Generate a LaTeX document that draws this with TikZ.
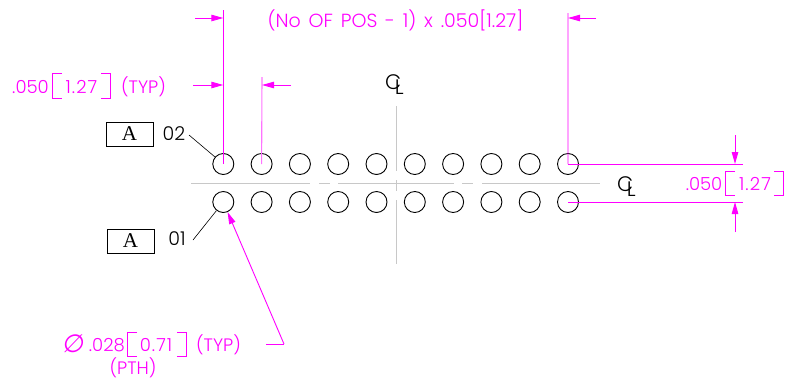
\documentclass[tikz,border=0pt]{standalone}
\usepackage{fontspec}
\setmainfont{Poppins Light}
\newfontfamily\symfont{DejaVu Sans}
\newfontfamily\serifA{Liberation Serif}
\newfontfamily\widefont[WordSpace=1.5]{Poppins Light}
\newfontfamily\spacedfont[LetterSpace=6]{Poppins Light}
\usetikzlibrary{arrows.meta}
\definecolor{dimc}{RGB}{255,0,255}
\definecolor{cline}{RGB}{200,200,200}
\newcommand{\clsym}{C\kern-6.5pt\raisebox{-5pt}{L}}
\tikzset{
  x=1pt,y=-1pt,
  pad/.style={circle,draw=black,line width=0.9pt,minimum size=21pt,inner sep=0pt,fill=none},
  dim/.style={draw=dimc,line width=0.9pt},
  dimarrow/.style={dim,-{Triangle[length=12pt,width=6.5pt,fill=dimc]}},
  dimtext/.style={text=dimc,font=\fontsize{18}{20}\selectfont,inner sep=0pt},
  midtext/.style={text=dimc,font=\spacedfont\fontsize{18}{20}\selectfont,inner sep=0pt},
  toptext/.style={text=dimc,font=\widefont\fontsize{19}{20}\selectfont,inner sep=0pt},
  blacktext/.style={text=black,font=\fontsize{19}{20}\selectfont,inner sep=0pt},
  bracket/.style={draw=dimc,line width=0.7pt},
  cl/.style={draw=cline,line width=1pt},
  datum/.style={draw=black,line width=0.8pt,minimum width=47pt,minimum height=24pt,inner sep=0pt,font=\serifA\fontsize{21}{22}\selectfont},
  clmark/.style={text=black,font=\fontsize{21}{22}\selectfont,inner sep=0pt},
  leader/.style={draw=black,line width=0.6pt}
}
\begin{document}
\begin{tikzpicture}
\useasboundingbox (0,0) rectangle (786,381);
% pads
\foreach \i [count=\n from 0] in {1,...,10}{
  \node[pad] (t\i) at ({223.3+38.3*\n},164) {};
  \node[pad] (b\i) at ({223.3+38.3*\n},202) {};
}
% centre lines
\coordinate (hA) at (191,183); \coordinate (hB) at (310,183);
\coordinate (hC) at (319,183); \coordinate (hD) at (330,183);
\coordinate (hE) at (338,183); \coordinate (hF) at (454,183);
\coordinate (hG) at (462,183); \coordinate (hH) at (473,183);
\coordinate (hI) at (482,183); \coordinate (hJ) at (600,183);
\draw[cl] (hA)--(hB) (hC)--(hD) (hE)--(hF) (hG)--(hH) (hI)--(hJ);
\coordinate (vA) at (396,106); \coordinate (vB) at (396,171);
\coordinate (vC) at (396,180); \coordinate (vD) at (396,191);
\coordinate (vE) at (396,200); \coordinate (vF) at (396,264);
\draw[cl] (vA)--(vB) (vC)--(vD) (vE)--(vF);
\node[clmark] (clv) at (394.5,85) {\clsym};
\node[clmark] (clh) at (626.5,186.5) {\clsym};
% top dimension
\coordinate (e1) at (223.3,10); \coordinate (e2) at (568,13);
\draw[dim] (e1)--(t1.center);
\draw[dim] (e2)--(t10.center);
\coordinate (a1) at (195,18); \coordinate (a1e) at (223.3,18);
\coordinate (a2) at (596,18); \coordinate (a2e) at (568,18);
\draw[dimarrow] (a1)--(a1e);
\draw[dimarrow] (a2)--(a2e);
\node[toptext] (toptxt) at (395.5,20) {(No OF POS - 1) x .050[1.27]};
% pitch dimension
\coordinate (e3) at (262,77);
\draw[dim,draw=dimc!55,line width=1.1pt] (e3)--(t2.center);
\coordinate (a3) at (193,85); \coordinate (a3e) at (223.3,85);
\coordinate (a4) at (291,85); \coordinate (a4e) at (262,85);
\draw[dimarrow] (a3)--(a3e);
\draw[dimarrow] (a4)--(a4e);
\node[dimtext,anchor=east] (p1) at (49,87) {.050};
\draw[bracket] (62,73)--(52.5,73)--(52.5,98)--(62,98);
\node[midtext] (p2) at (81.5,87) {1.27};
\draw[bracket] (101,73)--(110.5,73)--(110.5,98)--(101,98);
\node[dimtext] (p3) at (143.5,87) {(TYP)};
% datums
\node[datum] (dA) at (129.5,134) {A};
\node[datum] (dB) at (130.5,241) {A};
\node[blacktext] (n02) at (174,134) {02};
\node[blacktext] (n01) at (177,239) {01};
\coordinate (l02) at (189,135);
\coordinate (l01) at (193,240);
\draw[leader] (l02)--(t1);
\draw[leader] (l01)--(b1);
% right dimension
\coordinate (r1) at (743,164); \coordinate (r2) at (743,202);
\draw[dim] (t10.center)--(r1);
\draw[dim] (b10.center)--(r2);
\coordinate (ra) at (735,135); \coordinate (rae) at (735,164);
\coordinate (rb) at (735,232); \coordinate (rbe) at (735,202);
\draw[dimarrow] (ra)--(rae);
\draw[dimarrow] (rb)--(rbe);
\node[dimtext,anchor=east] (q1) at (722.5,184) {.050};
\draw[bracket] (735,171)--(725.5,171)--(725.5,195)--(735,195);
\node[midtext] (q2) at (755,184) {1.27};
\draw[bracket] (774,171)--(783.5,171)--(783.5,195)--(774,195);
% hole callout
\coordinate (k1) at (266,344); \coordinate (k2) at (284,344);
\draw[dim] (k1)--(k2);
\draw[dimarrow] (k2)--(b1);
\node[text=dimc,font=\symfont\fontsize{25}{26}\selectfont,inner sep=0pt,xslant=0.15] (phi) at (74,344) {∅};
\node[dimtext,anchor=east] (h1) at (125,345) {.028};
\draw[bracket] (137,332)--(127.5,332)--(127.5,356)--(137,356);
\node[midtext] (h2) at (156,345) {0.71};
\draw[bracket] (177,332)--(186.5,332)--(186.5,356)--(177,356);
\node[dimtext] (h3) at (218.5,345) {(TYP)};
\node[dimtext] (h4) at (133,367.5) {(PTH)};
\end{tikzpicture}
\end{document}
